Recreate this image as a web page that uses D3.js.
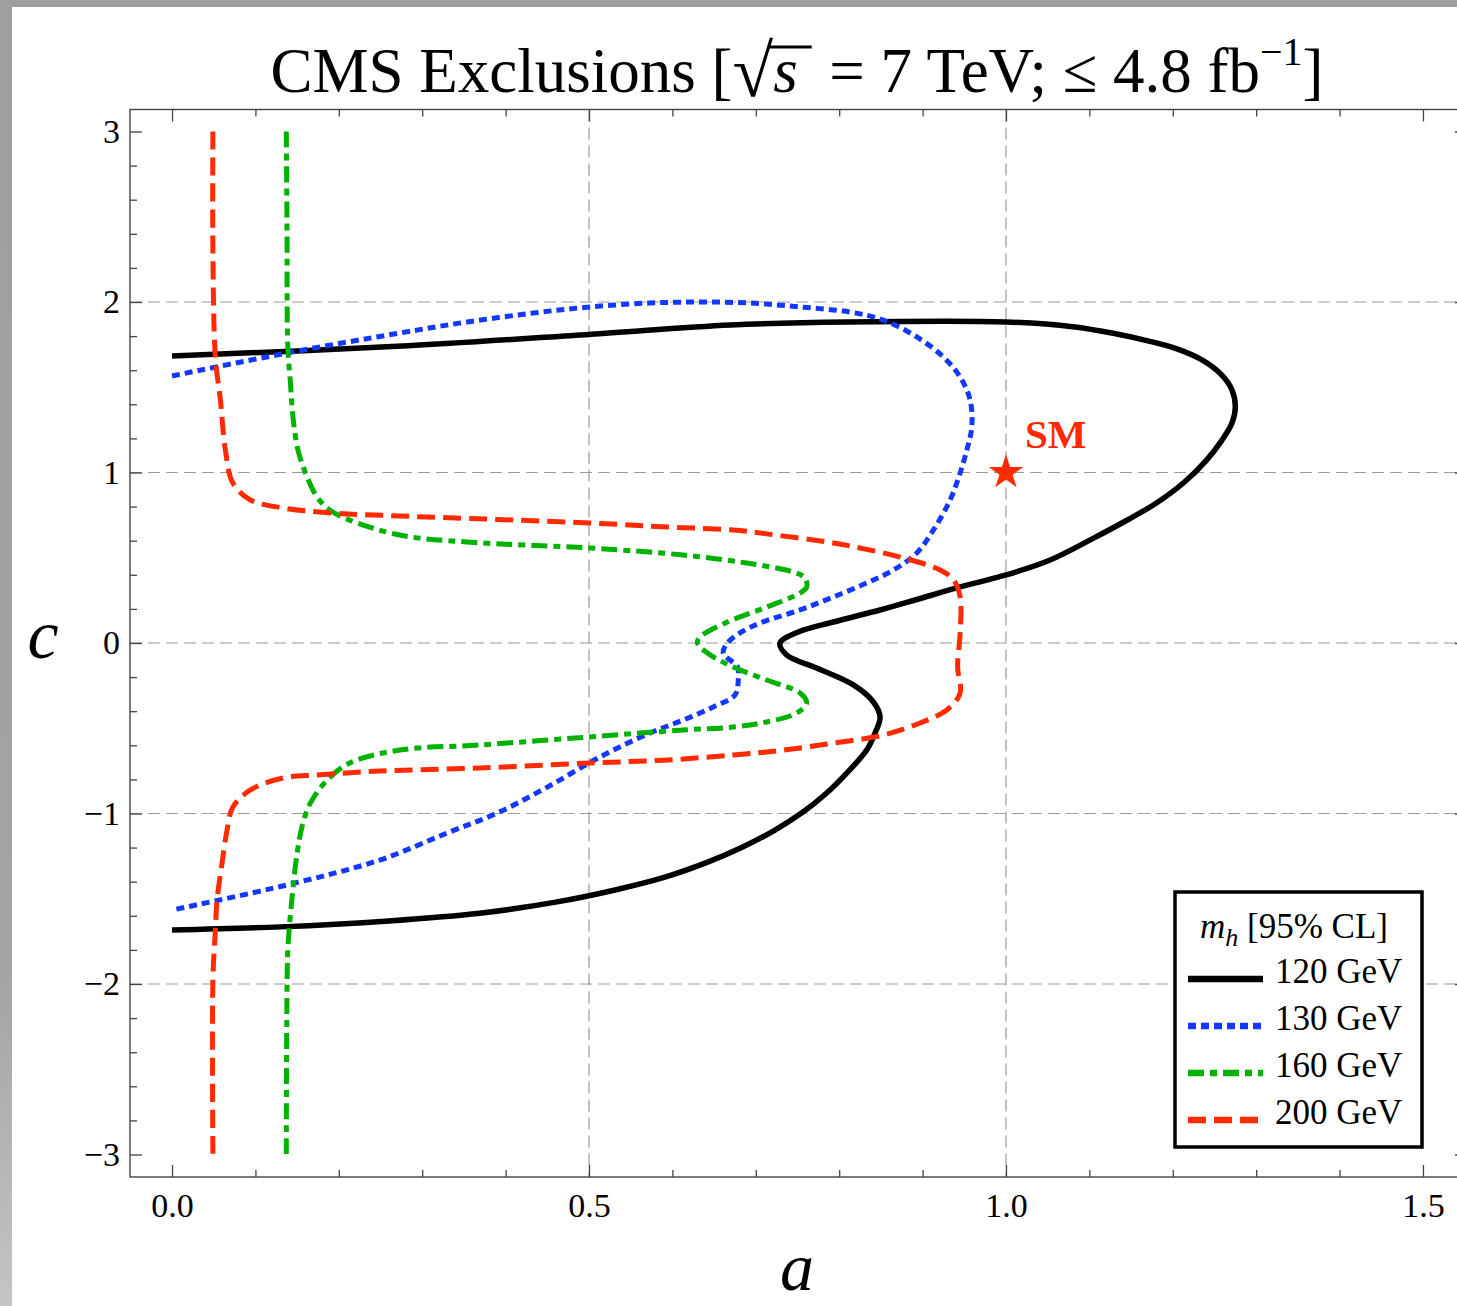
<!DOCTYPE html>
<html><head><meta charset="utf-8">
<script src="https://cdn.jsdelivr.net/npm/d3@7"></script>
<style>body{margin:0;background:#fff;} svg{display:block}</style>
</head><body>
<svg id="chart" width="1457" height="1306"></svg>
<script>
// ---------- data ----------
const aMajorTicks = [0, 0.5, 1.0, 1.5];
const aTickLabels = ["0.0", "0.5", "1.0", "1.5"];
const aMinorTicks = [0.1,0.2,0.3,0.4,0.6,0.7,0.8,0.9,1.1,1.2,1.3,1.4];
const cMajorTicks = [-3, -2, -1, 0, 1, 2, 3];
const cTickLabels = ["\u22123", "\u22122", "\u22121", "0", "1", "2", "3"];
const cMinorTicks = [-2.8,-2.6,-2.4,-2.2,-1.8,-1.6,-1.4,-1.2,-0.8,-0.6,-0.4,-0.2,0.2,0.4,0.6,0.8,1.2,1.4,1.6,1.8,2.2,2.4,2.6,2.8];
const aGrid = [0.5, 1.0];
const cGrid = [-2, -1, 0, 1, 2];

const seriesNames = ["120 GeV", "130 GeV", "160 GeV", "200 GeV"];

const curve120 = [[0,1.683],[0.27,1.74],[0.50,1.81],[0.67,1.865],[0.81,1.883],[1.0,1.883],[1.08,1.855],[1.13,1.815],[1.17,1.772],[1.205,1.725],[1.235,1.660],[1.258,1.575],[1.271,1.484],[1.275,1.384],[1.271,1.290],[1.259,1.190],[1.240,1.070],[1.213,0.940],[1.180,0.820],[1.145,0.720],[1.105,0.615],[1.053,0.487],[1.0,0.399],[0.941,0.323],[0.893,0.255],[0.850,0.195],[0.793,0.123],[0.751,0.065],[0.729,0],[0.737,-0.070],[0.773,-0.147],[0.817,-0.246],[0.841,-0.346],[0.849,-0.434],[0.843,-0.528],[0.833,-0.628],[0.809,-0.763],[0.785,-0.880],[0.757,-0.990],[0.722,-1.100],[0.683,-1.200],[0.640,-1.290],[0.590,-1.375],[0.530,-1.450],[0.460,-1.520],[0.369,-1.585],[0.26,-1.630],[0.13,-1.665],[0,-1.683]];

const curve130 = [[0,1.566],[0.138,1.701],[0.273,1.818],[0.354,1.883],[0.433,1.935],[0.501,1.971],[0.573,1.994],[0.633,2.0],[0.693,1.994],[0.753,1.971],[0.813,1.941],[0.853,1.894],[0.893,1.795],[0.925,1.677],[0.945,1.560],[0.957,1.425],[0.959,1.267],[0.954,1.150],[0.945,0.997],[0.933,0.839],[0.913,0.663],[0.893,0.528],[0.865,0.428],[0.833,0.352],[0.793,0.270],[0.753,0.194],[0.705,0.117],[0.681,0.059],[0.666,0],[0.661,-0.059],[0.678,-0.141],[0.679,-0.217],[0.675,-0.305],[0.649,-0.375],[0.613,-0.452],[0.573,-0.528],[0.513,-0.669],[0.450,-0.845],[0.390,-0.997],[0.330,-1.114],[0.249,-1.273],[0.138,-1.419],[0,-1.566]];

const curve160 = [[0.137,3],[0.138,2.305],[0.138,2.012],[0.139,1.718],[0.142,1.525],[0.145,1.326],[0.151,1.132],[0.162,0.974],[0.174,0.856],[0.189,0.780],[0.213,0.721],[0.273,0.633],[0.354,0.592],[0.501,0.557],[0.613,0.516],[0.689,0.469],[0.745,0.416],[0.759,0.381],[0.761,0.328],[0.753,0.293],[0.713,0.211],[0.666,0.123],[0.633,0.035],[0.630,0],[0.642,-0.059],[0.673,-0.141],[0.713,-0.217],[0.753,-0.293],[0.761,-0.352],[0.749,-0.411],[0.713,-0.463],[0.673,-0.493],[0.613,-0.510],[0.501,-0.551],[0.369,-0.598],[0.273,-0.628],[0.213,-0.704],[0.186,-0.804],[0.166,-0.938],[0.157,-1.056],[0.150,-1.232],[0.144,-1.490],[0.139,-1.783],[0.138,-1.977],[0.137,-3]];

const curve200 = [[0.049,3],[0.049,2.305],[0.052,1.677],[0.058,1.425],[0.064,1.132],[0.073,0.938],[0.094,0.839],[0.133,0.792],[0.193,0.762],[0.273,0.745],[0.501,0.704],[0.594,0.680],[0.673,0.663],[0.713,0.640],[0.793,0.587],[0.813,0.569],[0.873,0.504],[0.921,0.428],[0.937,0.370],[0.945,0.270],[0.945,0.059],[0.942,-0.141],[0.945,-0.293],[0.929,-0.393],[0.897,-0.469],[0.853,-0.540],[0.793,-0.587],[0.733,-0.628],[0.673,-0.657],[0.594,-0.686],[0.501,-0.704],[0.369,-0.733],[0.249,-0.751],[0.174,-0.774],[0.133,-0.792],[0.094,-0.862],[0.073,-0.962],[0.066,-1.097],[0.060,-1.290],[0.054,-1.507],[0.052,-1.683],[0.049,-1.977],[0.049,-3]];

const smPoint = [1.0, 1.0];
const smLabel = "SM";

// ---------- drawing ----------
const FONT = "'Liberation Serif','Times New Roman',serif";
const svg = d3.select("#chart");

// window border
const grad = svg.append("defs").append("linearGradient").attr("id","lb").attr("x1",0).attr("y1",0).attr("x2",0).attr("y2",1);
grad.append("stop").attr("offset","0%").attr("stop-color","#9e9e9e");
grad.append("stop").attr("offset","75%").attr("stop-color","#a4a4a4");
grad.append("stop").attr("offset","100%").attr("stop-color","#c4c4c4");
svg.append("rect").attr("x",0).attr("y",0).attr("width",1457).attr("height",1306).attr("fill","url(#lb)");
svg.append("rect").attr("x",0).attr("y",0).attr("width",1457).attr("height",7).attr("fill","#9e9e9e");
svg.append("rect").attr("x",12).attr("y",7).attr("width",1445).attr("height",1299).attr("fill","#fff");

const x = d3.scaleLinear().domain([-0.0504, 1.5528]).range([130, 1467]);
const y = d3.scaleLinear().domain([-3.132, 3.129]).range([1177, 109.5]);

// grid
const grid = svg.append("g").attr("stroke","#9a9a9a").attr("stroke-width",1.2).attr("stroke-dasharray","12,6");
grid.selectAll(".gx").data(aGrid).join("line")
  .attr("x1",d=>x(d)).attr("x2",d=>x(d)).attr("y1",y.range()[1]).attr("y2",y.range()[0]);
grid.selectAll(".gy").data(cGrid).join("line")
  .attr("y1",d=>y(d)).attr("y2",d=>y(d)).attr("x1",x.range()[0]).attr("x2",x.range()[1]);

// curves
const line = d3.line().x(d=>x(d[0])).y(d=>y(d[1])).curve(d3.curveCatmullRom.alpha(0.5));
const styles = [
  {data: curve120, color:"#000000", dash:null, w:5.5},
  {data: curve130, color:"#1438ff", dash:"8,5", w:5},
  {data: curve160, color:"#00b200", dash:"16,6,7,6", w:5},
  {data: curve200, color:"#ff2a00", dash:"18,8", w:5}
];
const cg = svg.append("g");
styles.forEach(s => {
  cg.append("path").attr("d", line(s.data)).attr("fill","none")
    .attr("stroke", s.color).attr("stroke-width", s.w)
    .attr("stroke-dasharray", s.dash).attr("stroke-linecap","butt").attr("stroke-linejoin","round");
});

// axes
function styleAxis(g){
  g.select(".domain").remove();
  g.selectAll(".tick line").attr("stroke","#444").attr("stroke-width",1.3);
  g.selectAll(".tick text").attr("font-family",FONT).attr("font-size",34).attr("fill","#000");
}
const yB = 1177, yT = 109.5, xL = 130, xR = 1467;
svg.append("g").attr("transform",`translate(0,${yB})`)
  .call(d3.axisBottom(x).tickValues(aMajorTicks).tickSize(-12).tickPadding(16).tickFormat((d,i)=>aTickLabels[i])).call(styleAxis);
svg.append("g").attr("transform",`translate(0,${yB})`)
  .call(d3.axisBottom(x).tickValues(aMinorTicks).tickSize(-7).tickFormat("")).call(styleAxis);
svg.append("g").attr("transform",`translate(0,${yT})`)
  .call(d3.axisTop(x).tickValues(aMajorTicks).tickSize(-12).tickFormat("")).call(styleAxis);
svg.append("g").attr("transform",`translate(0,${yT})`)
  .call(d3.axisTop(x).tickValues(aMinorTicks).tickSize(-7).tickFormat("")).call(styleAxis);
svg.append("g").attr("transform",`translate(${xL},0)`)
  .call(d3.axisLeft(y).tickValues(cMajorTicks).tickSize(-12).tickPadding(10).tickFormat((d,i)=>cTickLabels[i])).call(styleAxis);
svg.append("g").attr("transform",`translate(${xL},0)`)
  .call(d3.axisLeft(y).tickValues(cMinorTicks).tickSize(-7).tickFormat("")).call(styleAxis);
svg.append("g").attr("transform",`translate(${xR},0)`)
  .call(d3.axisRight(y).tickValues(cMajorTicks).tickSize(-12).tickFormat("")).call(styleAxis);
svg.append("g").attr("transform",`translate(${xR},0)`)
  .call(d3.axisRight(y).tickValues(cMinorTicks).tickSize(-7).tickFormat("")).call(styleAxis);

// frame
svg.append("rect").attr("x",xL).attr("y",yT).attr("width",xR-xL).attr("height",yB-yT)
  .attr("fill","none").attr("stroke","#444").attr("stroke-width",1.4);

// axis titles
svg.append("text").attr("x",797).attr("y",1290).attr("text-anchor","middle")
  .attr("font-family",FONT).attr("font-style","italic").attr("font-size",68).text("a");
svg.append("text").attr("x",43).attr("y",658).attr("text-anchor","middle")
  .attr("font-family",FONT).attr("font-style","italic").attr("font-size",70).text("c");

// title
const title = svg.append("text").attr("x",797).attr("y",92).attr("text-anchor","middle")
  .attr("font-family",FONT).attr("font-size",63).attr("fill","#000");
title.append("tspan").text("CMS Exclusions [");
title.append("tspan").attr("font-size",74).attr("dy",4).text("\u221A");
title.append("tspan").attr("font-style","italic").attr("dy",-4).text("s");
title.append("tspan").text("\u2002= 7 TeV; \u2264 4.8 fb");
title.append("tspan").attr("font-size",40).attr("dy",-27).text("\u22121");
title.append("tspan").attr("dy",27).text("]");
// radical overline
const tnode = title.node();
const full = tnode.textContent;
const iRad = full.indexOf("\u221A");
const iS = iRad + 1;
try {
  const pr = tnode.getEndPositionOfChar(iRad);
  const ps = tnode.getEndPositionOfChar(iS);
  svg.append("line").attr("x1",pr.x-4).attr("x2",ps.x+14).attr("y1",47).attr("y2",47)
    .attr("stroke","#000").attr("stroke-width",3);
} catch(e) {}

// SM point
svg.append("path").attr("d", d3.symbol().type(d3.symbolStar).size(370)())
  .attr("transform",`translate(${x(smPoint[0])},${y(smPoint[1])})`).attr("fill","#ff2a00");
svg.append("text").attr("x",x(smPoint[0])+19).attr("y",y(smPoint[1])-24)
  .attr("font-family",FONT).attr("font-weight","bold").attr("font-size",41).attr("fill","#ff2a00").text(smLabel);

// legend
const lg = svg.append("g");
lg.append("rect").attr("x",1175).attr("y",892).attr("width",247).attr("height",255)
  .attr("fill","#fff").attr("stroke","#000").attr("stroke-width",3.5);
const lt = lg.append("text").attr("x",1200).attr("y",938).attr("font-family",FONT).attr("font-size",35);
lt.append("tspan").attr("font-style","italic").text("m");
lt.append("tspan").attr("font-style","italic").attr("font-size",26).attr("dy",8).text("h");
lt.append("tspan").attr("dy",-8).text(" [95% CL]");
styles.forEach((s,i) => {
  const yy = 979 + i*47;
  lg.append("line").attr("x1",1188).attr("x2",1263).attr("y1",yy).attr("y2",yy)
    .attr("stroke",s.color).attr("stroke-width",6.5).attr("stroke-dasharray",s.dash);
  lg.append("text").attr("x",1275).attr("y",yy+4).attr("font-family",FONT).attr("font-size",35).text(seriesNames[i]);
});
</script>
</body></html>
